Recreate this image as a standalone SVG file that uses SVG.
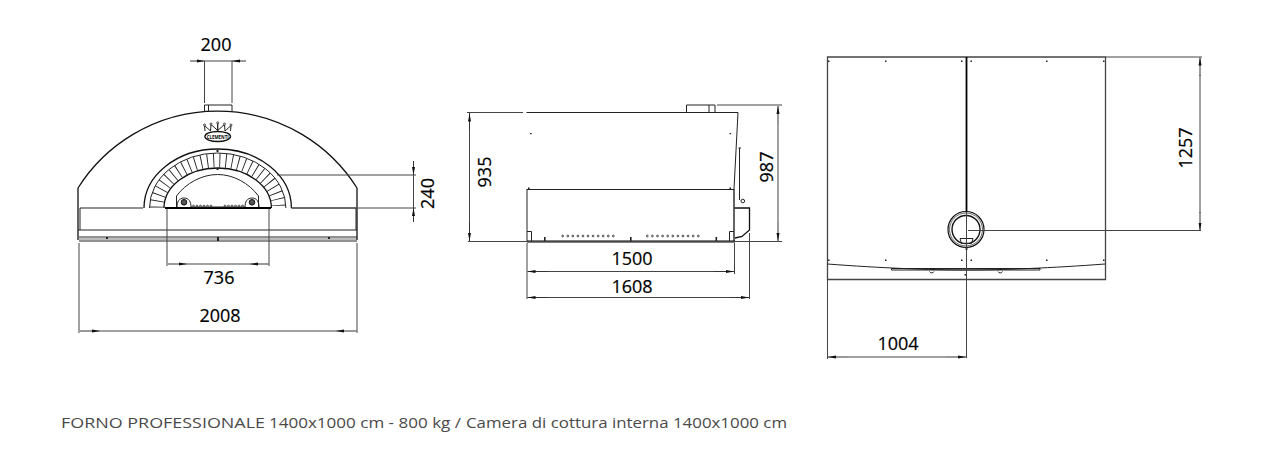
<svg xmlns="http://www.w3.org/2000/svg" width="1284" height="466" viewBox="0 0 1284 466">
<style>
text{font-family:"Open Sans","Noto Sans","DejaVu Sans",sans-serif;font-size:18px;fill:#000;stroke:#000;stroke-width:.2;text-anchor:middle}
.caption{font-size:15px;fill:#4a4a4a;stroke:none;text-anchor:start}
.o{fill:none;stroke:#222;stroke-width:1}
.t{fill:none;stroke:#111;stroke-width:1.300}
.k{fill:none;stroke:#000;stroke-width:2}
.f{fill:#222;stroke:none}
.w{fill:#fff;stroke:#222;stroke-width:.8}
.d{fill:none;stroke:#444;stroke-width:1}
.a{fill:none;stroke:#333;stroke-width:1;marker-end:url(#ah)}
</style>
<defs>
<marker id="ah" markerUnits="userSpaceOnUse" markerWidth="9" markerHeight="6" refX="8" refY="2.5" orient="auto"><path d="M0 1L8 2.5L0 4Z" fill="#111"/></marker>
</defs>
<rect width="1284" height="466" fill="#fff"/>

<g id="front-view">
<path class="t" d="M78 188A165 165 0 0 1 357 188"/>
<path class="t" d="M78 188V240M357 188V240"/>
<path class="o" d="M204.500 112V105H232V112M208.500 105V112"/>
<path class="o" d="M80 208H143M292 208H356M80 208V230M356 208V230"/>
<path class="o" d="M78 230H357"/>
<path class="o" d="M79 237H357M79 241H357"/>
<path class="o" d="M79 239H357" stroke-opacity=".6"/>
<rect class="f" x="106" y="237" width="2" height="2"/><rect class="f" x="217" y="237" width="2" height="4"/><rect class="f" x="328" y="237" width="2" height="2"/>
<g id="logo">
<path class="o" d="M205 131L204.500 125.500L210.500 131L211 124.500L217.700 130.500L217.700 123L217.700 130.500L224.500 124.500L225 131L231 125.500L230.500 131"/>
<circle class="w" cx="204.500" cy="125" r="1"/><circle class="w" cx="211" cy="124" r="1"/><circle class="w" cx="217.700" cy="122.800" r="1"/><circle class="w" cx="224.500" cy="124" r="1"/><circle class="w" cx="231" cy="125" r="1"/>
<ellipse class="t" cx="217.700" cy="136.500" rx="12.800" ry="5" fill="#fff"/>
<text x="217.700" y="138.500" textLength="22" lengthAdjust="spacingAndGlyphs" style="font-size:5.500px;font-weight:700;stroke:none">CLEMENTI</text>
</g>
<path class="t" d="M144 208A73.700 59 0 0 1 291.400 208"/>
<path class="o" d="M149.500 208A68.200 55 0 0 1 285.900 208"/>
<path d="M156.700 207.500A61 47 0 0 1 278.700 207.500" fill="none" stroke="#222" stroke-width="14" stroke-dasharray=".9 5.300"/>
<path class="t" d="M164 208A53.700 40 0 0 1 271.400 208"/>
<path class="o" d="M176.500 207V196C186 183 202 174.500 217.700 174.500C233 174.500 249 183 258.500 196V207"/>
<path class="k" d="M165 208H271" stroke-width="1.600"/>
<rect class="f" x="216.500" y="150" width="2" height="2"/><rect class="f" x="216.500" y="168" width="2" height="2"/>
<path class="o" d="M177 207C177 202 179 198 184 198C189 198 191 202 191 207M245 207C245 202 247 198 252 198C257 198 259 202 259 207M191 207H245"/>
<circle cx="184" cy="202.300" r="2.800" fill="#555" stroke="#111"/><circle cx="252" cy="202.300" r="2.800" fill="#555" stroke="#111"/>
<g class="w">
<circle cx="193.500" cy="206" r=".9"/><circle cx="197" cy="206" r=".9"/><circle cx="200.500" cy="206" r=".9"/><circle cx="204" cy="206" r=".9"/><circle cx="207.500" cy="206" r=".9"/><circle cx="211" cy="206" r=".9"/>
<circle cx="225" cy="206" r=".9"/><circle cx="228.500" cy="206" r=".9"/><circle cx="232" cy="206" r=".9"/><circle cx="235.500" cy="206" r=".9"/><circle cx="239" cy="206" r=".9"/><circle cx="242.500" cy="206" r=".9"/>
</g>
</g>

<g id="side-view">
<path class="o" d="M526.500 112.500H738L734 189"/>
<path class="o" d="M686.500 112.500V105H715V112.500M709 105V112.500"/>
<path class="o" d="M526.500 189.500H734M527 189.500V241.500"/>
<path class="t" d="M734 189V241.500"/>
<path class="k" d="M527 241.500H735" stroke-width="1.600"/>
<path class="o" d="M527 231.500H531.500V241M729.500 241V231.500H734"/>
<path class="o" d="M739.500 148V200" stroke-width="1.200"/><path class="o" d="M738.500 148H741"/>
<circle class="o" cx="742.800" cy="201" r="1.800"/>
<path class="t" d="M734.500 208H749.500V230L742 236.500L735 238"/>
<rect class="f" x="530" y="133" width="1.600" height="1.200"/><rect class="f" x="729.500" y="133" width="1.600" height="1.200"/>
<rect class="f" x="528" y="187.500" width="1.600" height="1.500"/><rect class="f" x="729.500" y="187.500" width="1.600" height="1.500"/>
<rect class="f" x="544" y="237" width="1.600" height="4"/><rect class="f" x="630" y="237" width="1.600" height="4"/><rect class="f" x="715.500" y="237" width="1.600" height="4"/>
<g class="w">
<circle cx="562.700" cy="236" r=".9"/><circle cx="567.800" cy="236" r=".9"/><circle cx="572.800" cy="236" r=".9"/><circle cx="577.900" cy="236" r=".9"/><circle cx="583" cy="236" r=".9"/><circle cx="588" cy="236" r=".9"/><circle cx="593.100" cy="236" r=".9"/><circle cx="598.200" cy="236" r=".9"/><circle cx="603.200" cy="236" r=".9"/><circle cx="608.300" cy="236" r=".9"/><circle cx="613.300" cy="236" r=".9"/>
<circle cx="647.300" cy="236" r=".9"/><circle cx="652.400" cy="236" r=".9"/><circle cx="657.500" cy="236" r=".9"/><circle cx="662.600" cy="236" r=".9"/><circle cx="667.700" cy="236" r=".9"/><circle cx="672.800" cy="236" r=".9"/><circle cx="677.900" cy="236" r=".9"/><circle cx="683" cy="236" r=".9"/><circle cx="688.100" cy="236" r=".9"/><circle cx="693.200" cy="236" r=".9"/><circle cx="698.300" cy="236" r=".9"/>
</g>
</g>

<g id="top-view">
<path d="M827.500 57H1105.500V279.500H827.500Z" fill="none" stroke="#444" stroke-width="1.300"/>
<path class="o" d="M827.500 264C880 268 930 270 966 270C1002 270 1052 268 1105 264"/>
<path class="o" d="M891.500 268.500H1040V270H891.500Z" fill="#888"/>
<path class="o" d="M929.500 271.500A2.500 2.500 0 0 0 934 271.500M998 271.500A2.500 2.500 0 0 0 1002.500 271.500"/>
<path d="M966.500 57V212" fill="none" stroke="#000" stroke-width="1.800"/>
<circle cx="966" cy="229.500" r="18" fill="none" stroke="#111" stroke-width="1.200"/>
<circle cx="966" cy="229.500" r="16.500" fill="none" stroke="#222" stroke-width=".7"/>
<circle cx="966" cy="229.500" r="14" fill="none" stroke="#111" stroke-width="1.400"/>
<path class="o" d="M960 238.500H973L971.500 243.500H961.500Z"/>
<path d="M966.500 247V250" fill="none" stroke="#000" stroke-width="1.800"/>
<g class="f">
<rect x="828" y="60.500" width="1.500" height="1.500"/><rect x="885" y="60.500" width="1.500" height="1.500"/><rect x="961" y="60.500" width="1.500" height="1.500"/><rect x="970.500" y="60.500" width="1.500" height="1.500"/><rect x="1046" y="60.500" width="1.500" height="1.500"/><rect x="1103" y="60.500" width="1.500" height="1.500"/>
<rect x="828" y="259.500" width="1.500" height="1.500"/><rect x="885" y="259.500" width="1.500" height="1.500"/><rect x="961" y="259.500" width="1.500" height="1.500"/><rect x="970.500" y="259.500" width="1.500" height="1.500"/><rect x="1046" y="259.500" width="1.500" height="1.500"/><rect x="1103" y="259.500" width="1.500" height="1.500"/>
<rect x="964.500" y="274" width="1.500" height="1.500"/>
</g>
</g>

<g id="connectors">
<path class="d" d="M204.500 61V103M232 61V103M204.500 61H232"/>
<path class="a" d="M190 61H204.500"/><path class="a" d="M246 61H232"/>
<path class="d" d="M79 243V333M357 243V333M167 209V266M269 209V266"/>
<path class="a" d="M168 264H187"/><path class="a" d="M268.500 264H250"/><path class="d" d="M187 264H250"/>
<path class="a" d="M80 331H100"/><path class="a" d="M356.500 331H336"/><path class="d" d="M100 331H336"/>
<path class="d" d="M277 175H416M291 208H416M413.500 175V208"/>
<path class="a" d="M413.500 161V175"/><path class="a" d="M413.500 222V208"/>
<path class="d" d="M467 112.500H523M468 241.500H782M717 105H782M469.500 113V241"/>
<path class="a" d="M469.500 130V113.500"/><path class="a" d="M469.500 222V241"/>
<path class="d" d="M778 125V222"/><path class="a" d="M778 125V106"/><path class="a" d="M778 222V241"/>
<path class="d" d="M527 243V299M734.500 243V274M749.500 233V299"/>
<path class="a" d="M548 271.500H527.500"/><path class="a" d="M714 271.500H734"/><path class="d" d="M548 271.500H714"/>
<path class="a" d="M548 297.500H527.500"/><path class="a" d="M730 297.500H749"/><path class="d" d="M548 297.500H730"/>
<path class="d" d="M966.500 212V358M827.500 280V359M968 230.500H1201M1106 57H1202M1200 75V213"/>
<path class="a" d="M1200 76V57.500"/><path class="a" d="M1200 212V230.500"/>
<path class="a" d="M848 357H828"/><path class="a" d="M946 357H966"/><path class="d" d="M848 357H946"/>
</g>

<g id="labels">
<text x="216" y="51">200</text>
<text x="219" y="284">736</text>
<text x="220" y="322">2008</text>
<text transform="translate(434 193.500) rotate(-90)">240</text>
<text transform="translate(491 172) rotate(-90)">935</text>
<text transform="translate(773 167) rotate(-90)">987</text>
<text x="632" y="265">1500</text>
<text x="632" y="293">1608</text>
<text transform="translate(1192 148) rotate(-90)">1257</text>
<text x="898" y="350">1004</text>
<text class="caption" y="427.500"><tspan x="61" textLength="204" lengthAdjust="spacingAndGlyphs">FORNO PROFESSIONALE</tspan> <tspan x="269" textLength="192" lengthAdjust="spacingAndGlyphs">1400x1000 cm - 800 kg /</tspan> <tspan x="466" textLength="321" lengthAdjust="spacingAndGlyphs">Camera di cottura interna 1400x1000 cm</tspan></text>
</g>
</svg>
